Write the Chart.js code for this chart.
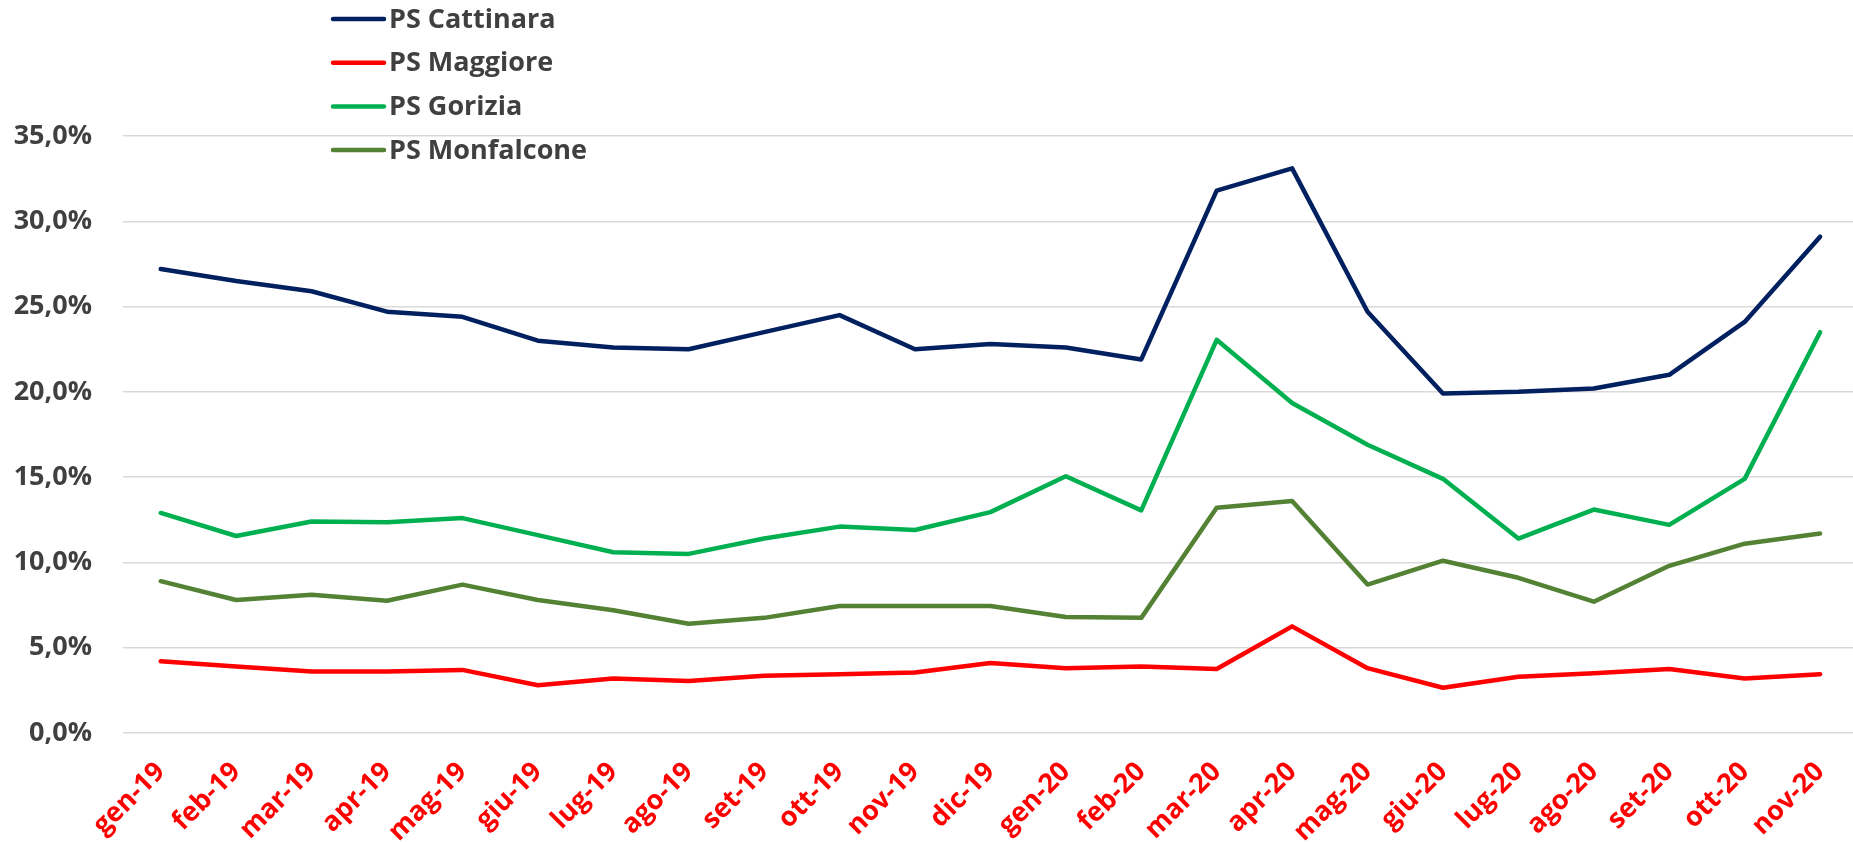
<!DOCTYPE html>
<html>
<head>
<meta charset="utf-8">
<script src="https://cdn.jsdelivr.net/npm/chart.js@4/dist/chart.umd.min.js"></script>
<style>
  html, body { margin: 0; padding: 0; background: #fff; overflow: hidden; }
  #wrap { width: 1853px; height: 842px; overflow: hidden; }
</style>
</head>
<body>
<div id="wrap"><canvas id="myChart" width="1866" height="842"></canvas></div>
<script>
const months = ["gen-19", "feb-19", "mar-19", "apr-19", "mag-19", "giu-19", "lug-19", "ago-19", "set-19", "ott-19", "nov-19", "dic-19",
  "gen-20", "feb-20", "mar-20", "apr-20", "mag-20", "giu-20", "lug-20", "ago-20", "set-20", "ott-20", "nov-20"];

// values in %
const cattinara = [27.2, 26.5, 25.9, 24.7, 24.4, 23.0, 22.6, 22.5, 23.5, 24.5, 22.5, 22.8,
  22.6, 21.9, 31.8, 33.1, 24.7, 19.9, 20.0, 20.2, 21.0, 24.1, 29.1];
const maggiore = [4.2, 3.9, 3.6, 3.6, 3.7, 2.8, 3.2, 3.05, 3.35, 3.45, 3.55, 4.1,
  3.8, 3.9, 3.75, 6.25, 3.8, 2.65, 3.3, 3.5, 3.75, 3.2, 3.45];
const gorizia = [12.9, 11.55, 12.4, 12.35, 12.6, 11.6, 10.6, 10.5, 11.4, 12.1, 11.9, 12.95,
  15.05, 13.05, 23.05, 19.35, 16.9, 14.9, 11.4, 13.1, 12.2, 14.9, 23.5];
const monfalcone = [8.9, 7.8, 8.1, 7.75, 8.7, 7.8, 7.2, 6.4, 6.75, 7.45, 7.45, 7.45,
  6.8, 6.75, 13.2, 13.6, 8.7, 10.1, 9.1, 7.7, 9.8, 11.1, 11.7];

const seriesNames = ["PS Cattinara", "PS Maggiore", "PS Gorizia", "PS Monfalcone"];
const seriesColors = ["#002060", "#FF0000", "#00B050", "#548235"];
const yTicks = [0, 5, 10, 15, 20, 25, 30, 35];

const FONT = "'Open Sans', Lato, sans-serif";
const TEXT = "#404040";

// simple vertical legend, like the excel one
const sideLegend = {
  id: "sideLegend",
  afterDraw(chart) {
    const ctx = chart.ctx;
    ctx.save();
    ctx.font = "bold 27px " + FONT;
    ctx.textBaseline = "middle";
    chart.data.datasets.forEach((ds, i) => {
      const y = 19 + i * 43.7;
      ctx.strokeStyle = ds.borderColor;
      ctx.lineWidth = 4.5;
      ctx.lineCap = "round";
      ctx.beginPath();
      ctx.moveTo(333, y);
      ctx.lineTo(384, y);
      ctx.stroke();
      ctx.fillStyle = TEXT;
      ctx.fillText(ds.label, 389, y + 1);
    });
    ctx.restore();
  }
};

const ctx = document.getElementById("myChart").getContext("2d");
const myChart = new Chart(ctx, {
  type: "line",
  data: {
    labels: months,
    datasets: [cattinara, maggiore, gorizia, monfalcone].map((d, i) => ({
      label: seriesNames[i],
      data: d,
      borderColor: seriesColors[i],
      backgroundColor: seriesColors[i],
      borderWidth: 4.5,
      pointRadius: 0,
      tension: 0,
      fill: false,
      borderJoinStyle: "round",
      borderCapStyle: "round"
    }))
  },
  options: {
    responsive: false,
    animation: false,
    devicePixelRatio: 1,
    layout: { padding: { top: 136, right: 0, bottom: 0, left: 0 } },
    plugins: {
      legend: { display: false },
      tooltip: { enabled: false }
    },
    scales: {
      x: {
        offset: true,
        grid: { display: false, drawTicks: false },
        border: { display: false },
        ticks: {
          color: "#FF0000",
          font: { family: FONT, size: 27, weight: "bold" },
          minRotation: 45,
          maxRotation: 45,
          autoSkip: false,
          padding: 23,
          labelOffset: 0
        },
        afterFit(scale) { scale.height = 109; }
      },
      y: {
        min: 0,
        max: 35,
        afterBuildTicks(scale) { scale.ticks = yTicks.map(v => ({ value: v })); },
        grid: { color: "#d9d9d9", lineWidth: 1.5, drawTicks: false },
        border: { display: false },
        ticks: {
          color: TEXT,
          font: { family: FONT, size: 27, weight: "bold" },
          padding: 31,
          callback: v => v.toFixed(1).replace(".", ",") + "%"
        },
        afterFit(scale) { scale.width = 123; }
      }
    }
  },
  plugins: [sideLegend]
});
</script>
</body>
</html>
